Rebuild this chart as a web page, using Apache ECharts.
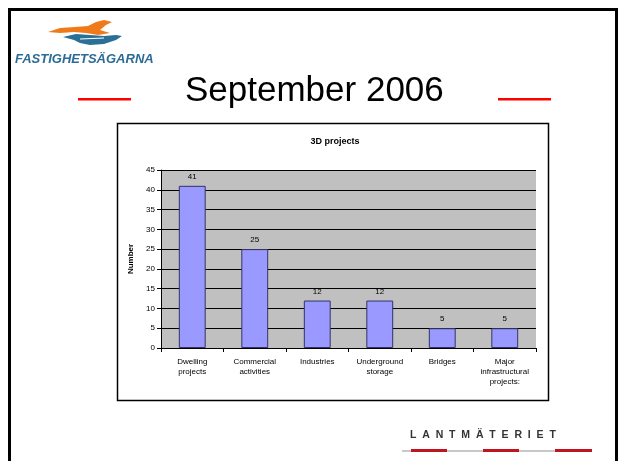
<!DOCTYPE html>
<html><head><meta charset="utf-8">
<script src="https://cdn.jsdelivr.net/npm/echarts@6/dist/echarts.min.js"></script>
<style>html,body{margin:0;padding:0;background:#fff}#c{width:618px;height:461px}</style>
</head><body><div id="c"></div>
<script>
const categories = ['Dwelling\nprojects','Commercial\nactivities','Industries','Underground\nstorage','Bridges','Major\ninfrastructural\nprojects:'];
const values = [41, 25, 12, 12, 5, 5];
const yTicks = [0, 5, 10, 15, 20, 25, 30, 35, 40, 45];
const slideTitle = 'September 2006';
const chartTitle = '3D projects';
const yName = 'Number';

const F = 'Liberation Sans, Arial, sans-serif';
const chart = echarts.init(document.getElementById('c'));
chart.setOption({
  animation: false,
  backgroundColor: '#fff',
  title: {text: chartTitle, left: 330, top: 132, textAlign: 'center',
    textStyle: {fontFamily: F, fontSize: 9, fontWeight: 'bold', color: '#000'}},
  grid: {left: 161, right: 82, top: 170, bottom: 113, show: true, backgroundColor: '#c0c0c0', borderWidth: 0},
  xAxis: {type: 'category', data: categories,
    axisLine: {lineStyle: {color: '#000', width: 1}},
    axisTick: {show: true, length: 4, lineStyle: {color: '#000'}},
    axisLabel: {fontFamily: F, fontSize: 8, color: '#000', lineHeight: 10, margin: 9, interval: 0}},
  yAxis: {type: 'value', min: yTicks[0], max: yTicks[yTicks.length-1], interval: 5,
    name: yName, nameLocation: 'middle', nameGap: 24, nameRotate: 90,
    nameTextStyle: {fontFamily: F, fontSize: 8, fontWeight: 'bold', color: '#000'},
    axisLine: {show: true, lineStyle: {color: '#000'}},
    axisTick: {show: true, length: 4, lineStyle: {color: '#000'}},
    axisLabel: {fontFamily: F, fontSize: 8, color: '#000', margin: 6},
    splitLine: {lineStyle: {color: '#000', width: 1}}},
  series: [{type: 'bar', data: values, barWidth: '43%',
    itemStyle: {color: '#9999ff', borderColor: '#333366', borderWidth: 1},
    label: {show: true, position: 'top', distance: 5, fontFamily: F, fontSize: 8, color: '#000'}}],
  graphic: [
    {type: 'rect', shape: {x: 9.5, y: 9.5, width: 607, height: 470}, style: {fill: 'none', stroke: '#000', lineWidth: 3}, silent: true},
    {type: 'rect', shape: {x: 117.5, y: 123.5, width: 431, height: 277}, style: {fill: 'none', stroke: '#000', lineWidth: 1.5}, silent: true},
    {type: 'text', x: 185, y: 74, style: {text: slideTitle, fontFamily: F, fontSize: 35, fill: '#000'}},
    {type: 'rect', shape: {x: 78, y: 98, width: 53, height: 2.5}, style: {fill: '#ff0000'}},
    {type: 'rect', shape: {x: 498, y: 98, width: 53, height: 2.5}, style: {fill: '#ff0000'}},
    {type: 'polygon', shape: {points: [[48,32],[60,28],[75,27],[88,26],[96,22],[104,20],[112,22],[106,25],[100,30],[110,33],[98,35],[86,33],[74,32],[60,33]]}, style: {fill: '#f07a1a'}},
    {type: 'polygon', shape: {points: [[63,37],[76,34],[90,35],[104,36],[116,35],[122,36],[116,40],[104,44],[90,45],[80,43],[74,40]]}, style: {fill: '#2a6f96'}},
    {type: 'line', shape: {x1: 80, y1: 39, x2: 104, y2: 38}, style: {stroke: '#ffffff', lineWidth: 1.2}},
    {type: 'text', x: 15, y: 53, style: {text: 'FASTIGHETSÄGARNA', fontFamily: F, fontSize: 13, fontWeight: 'bold', fontStyle: 'italic', fill: '#2b6c96'}},
    {type: 'text', x: 410, y: 430, style: {text: 'L  A  N  T  M  Ä  T  E  R  I  E  T', fontFamily: F, fontSize: 10.5, fontWeight: 'bold', fill: '#333'}},
    {type: 'rect', shape: {x: 402, y: 450, width: 190, height: 2}, style: {fill: '#c8c8c8'}},
    {type: 'rect', shape: {x: 411, y: 449, width: 36, height: 3}, style: {fill: '#c0141e'}},
    {type: 'rect', shape: {x: 483, y: 449, width: 36, height: 3}, style: {fill: '#c0141e'}},
    {type: 'rect', shape: {x: 555, y: 449, width: 37, height: 3}, style: {fill: '#c0141e'}}
  ]
});
</script></body></html>
